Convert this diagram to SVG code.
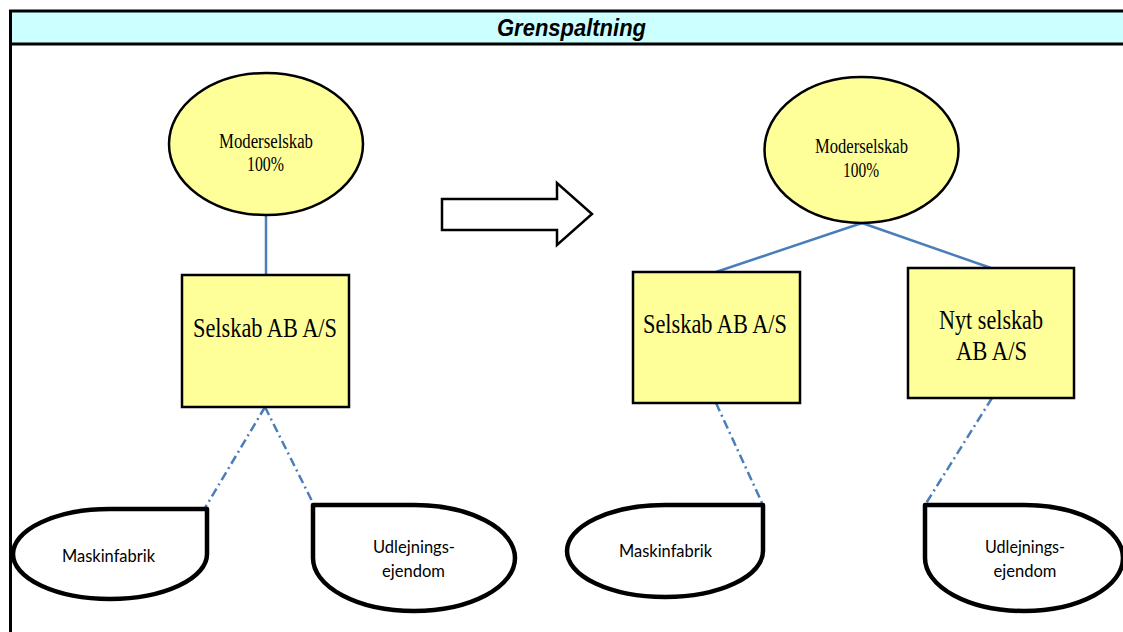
<svg xmlns="http://www.w3.org/2000/svg" width="1123" height="632" viewBox="0 0 1123 632">
  <style>
    .company { fill: #FFFF99; stroke: #000; stroke-width: 2.5; }
    .asset { fill: #fff; stroke: #000; stroke-width: 4.5; stroke-linejoin: round; }
    .owner { stroke: #4A7EBB; stroke-width: 2.5; fill: none; }
    .holding { stroke: #4A7EBB; stroke-width: 2.5; fill: none; stroke-dasharray: 9 4 2 4; }
    .serif { font-family: "Liberation Serif", "Times New Roman", serif; fill: #000; text-anchor: middle; }
    .sans { font-family: Lato, "Liberation Sans", Arial, sans-serif; fill: #000; text-anchor: middle; font-size: 18px; }
  </style>

  <rect width="1123" height="632" fill="#fff"/>

  <!-- frame and header band -->
  <g id="frame">
    <rect x="10" y="11" width="1120" height="33" fill="#CCFFFF"/>
    <line x1="9" y1="11" x2="1123" y2="11" stroke="#000" stroke-width="3"/>
    <line x1="9" y1="44" x2="1123" y2="44" stroke="#000" stroke-width="3"/>
    <line x1="10.5" y1="10" x2="10.5" y2="632" stroke="#000" stroke-width="3"/>
    <text x="571.5" y="36" font-family="Liberation Sans, Arial, sans-serif" font-weight="bold" font-style="italic" font-size="23" text-anchor="middle" textLength="149" lengthAdjust="spacingAndGlyphs">Grenspaltning</text>
  </g>

  <!-- connectors -->
  <g id="connectors">
    <line class="owner" x1="266" y1="215" x2="266" y2="275"/>
    <line class="owner" x1="862" y1="223" x2="716" y2="272"/>
    <line class="owner" x1="862" y1="223" x2="991" y2="268"/>
    <line class="holding" x1="265" y1="407" x2="205" y2="508"/>
    <line class="holding" x1="265" y1="407" x2="314" y2="505"/>
    <line class="holding" x1="716" y1="403" x2="763" y2="505"/>
    <line class="holding" x1="992" y1="398" x2="925" y2="505"/>
  </g>

  <!-- transition arrow -->
  <g id="arrow">
    <polygon points="442,199 557,199 557,183 592,214 557,245 557,230 442,230" fill="#fff" stroke="#000" stroke-width="2.5"/>
  </g>

  <!-- before: parent -->
  <g id="parent-left">
    <ellipse cx="266" cy="144" rx="97" ry="71" fill="#FFFF99" stroke="#000" stroke-width="2.5"/>
    <text class="serif" x="266" y="148" font-size="20" textLength="94" lengthAdjust="spacingAndGlyphs">Moderselskab</text>
    <text class="serif" x="265.5" y="171" font-size="20" textLength="37" lengthAdjust="spacingAndGlyphs">100%</text>
  </g>

  <g id="company-left">
    <rect class="company" x="182" y="275" width="167" height="132"/>
    <text class="serif" x="265" y="337" font-size="27" textLength="144" lengthAdjust="spacingAndGlyphs">Selskab AB A/S</text>
  </g>

  <g id="factory-left">
    <path class="asset" d="M110,509 L207,509 L207,554 A97,45 0 0 1 110,599 A97,45 0 0 1 13,554 A97,45 0 0 1 110,509 Z"/>
    <text class="sans" x="108.5" y="562" textLength="93" lengthAdjust="spacingAndGlyphs">Maskinfabrik</text>
  </g>

  <g id="property-left">
    <path class="asset" d="M414,505 L313,505 L313,558 A101,53 0 0 0 414,611 A101,53 0 0 0 515,558 A101,53 0 0 0 414,505 Z"/>
    <text class="sans" x="414" y="553" textLength="82" lengthAdjust="spacingAndGlyphs">Udlejnings-</text>
    <text class="sans" x="413.5" y="577" textLength="63" lengthAdjust="spacingAndGlyphs">ejendom</text>
  </g>

  <!-- after: parent -->
  <g id="parent-right">
    <ellipse cx="861.5" cy="150" rx="97" ry="73" fill="#FFFF99" stroke="#000" stroke-width="2.5"/>
    <text class="serif" x="861.5" y="153" font-size="20" textLength="93" lengthAdjust="spacingAndGlyphs">Moderselskab</text>
    <text class="serif" x="861" y="177" font-size="20" textLength="36" lengthAdjust="spacingAndGlyphs">100%</text>
  </g>

  <g id="company-right">
    <rect class="company" x="633" y="272" width="167" height="131"/>
    <text class="serif" x="715" y="333" font-size="27" textLength="144" lengthAdjust="spacingAndGlyphs">Selskab AB A/S</text>
  </g>

  <g id="new-company">
    <rect class="company" x="908" y="268" width="166" height="130"/>
    <text class="serif" x="991" y="329" font-size="27" textLength="104" lengthAdjust="spacingAndGlyphs">Nyt selskab</text>
    <text class="serif" x="991.5" y="360" font-size="27" textLength="71" lengthAdjust="spacingAndGlyphs">AB A/S</text>
  </g>

  <g id="factory-right">
    <path class="asset" d="M665,505 L763,505 L763,551 A98,46 0 0 1 665,597 A98,46 0 0 1 567,551 A98,46 0 0 1 665,505 Z"/>
    <text class="sans" x="665.5" y="557" textLength="93" lengthAdjust="spacingAndGlyphs">Maskinfabrik</text>
  </g>

  <g id="property-right">
    <path class="asset" d="M1024,505 L925,505 L925,558 A99,53 0 0 0 1024,611 A99,53 0 0 0 1123,558 A99,53 0 0 0 1024,505 Z"/>
    <text class="sans" x="1025" y="553" textLength="80" lengthAdjust="spacingAndGlyphs">Udlejnings-</text>
    <text class="sans" x="1025" y="577" textLength="63" lengthAdjust="spacingAndGlyphs">ejendom</text>
  </g>
</svg>
